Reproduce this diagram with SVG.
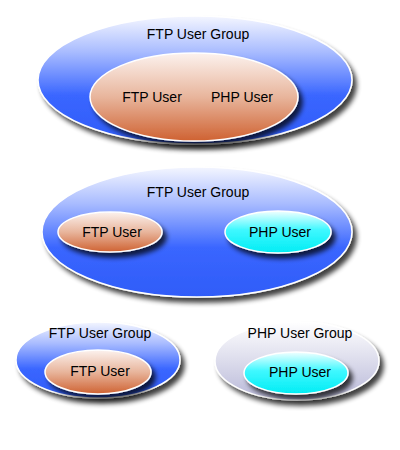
<svg xmlns="http://www.w3.org/2000/svg" width="400" height="450" viewBox="0 0 400 450">
<defs>
<linearGradient id="gBlue" x1="0" y1="0" x2="0" y2="1">
<stop offset="0" stop-color="#f4f6ff"/>
<stop offset="0.28" stop-color="#a9bcff"/>
<stop offset="0.62" stop-color="#3a66ff"/>
<stop offset="1" stop-color="#2f5cf8"/>
</linearGradient>
<linearGradient id="gOrange" x1="0" y1="0" x2="0" y2="1">
<stop offset="0" stop-color="#fcf2ee"/>
<stop offset="0.5" stop-color="#e8b59c"/>
<stop offset="1" stop-color="#cf6232"/>
</linearGradient>
<linearGradient id="gCyan" x1="0" y1="0" x2="0" y2="1">
<stop offset="0" stop-color="#f2ffff"/>
<stop offset="0.45" stop-color="#3ff8ff"/>
<stop offset="1" stop-color="#00ecf4"/>
</linearGradient>
<linearGradient id="gGrey" x1="0" y1="0" x2="0" y2="1">
<stop offset="0" stop-color="#ffffff"/>
<stop offset="0.5" stop-color="#dcdcec"/>
<stop offset="1" stop-color="#b8b8d8"/>
</linearGradient>
<filter id="shadow" x="-20%" y="-20%" width="140%" height="160%">
<feGaussianBlur in="SourceAlpha" stdDeviation="2.5"/>
<feOffset dx="4" dy="5" result="b"/>
<feComponentTransfer><feFuncA type="linear" slope="0.75"/></feComponentTransfer>
<feMerge><feMergeNode/><feMergeNode in="SourceGraphic"/></feMerge>
</filter>
</defs>
<style>
.e{stroke:#ffffff;stroke-width:1.5;filter:url(#shadow)}
.blue{fill:url(#gBlue)}
.orange{fill:url(#gOrange)}
.cyan{fill:url(#gCyan)}
.grey{fill:url(#gGrey)}
text{font-family:"Liberation Sans",Arial,sans-serif;font-size:14px;fill:#000;text-anchor:middle}
</style>
<g id="diagram1">
<g id="ftpGroup1">
<ellipse class="e blue" cx="195" cy="80" rx="157" ry="64"/>
<text x="198" y="39">FTP User Group</text>
</g>
<g id="users1">
<ellipse class="e orange" cx="194" cy="97" rx="104" ry="44"/>
<text x="152" y="102">FTP User</text>
<text x="242" y="102">PHP User</text>
</g>
</g>
<g id="diagram2">
<g id="ftpGroup2">
<ellipse class="e blue" cx="197" cy="232" rx="155" ry="65"/>
<text x="198" y="197">FTP User Group</text>
</g>
<g id="ftpUser2">
<ellipse class="e orange" cx="110" cy="232" rx="52" ry="20"/>
<text x="112" y="237">FTP User</text>
</g>
<g id="phpUser2">
<ellipse class="e cyan" cx="278" cy="232" rx="53" ry="21"/>
<text x="280" y="237">PHP User</text>
</g>
</g>
<g id="diagram3">
<g id="ftpGroup3">
<ellipse class="e blue" cx="98" cy="360" rx="82" ry="38"/>
<text x="100" y="338">FTP User Group</text>
</g>
<g id="ftpUser3">
<ellipse class="e orange" cx="98" cy="372" rx="53" ry="22"/>
<text x="100" y="376">FTP User</text>
</g>
<g id="phpGroup3">
<ellipse class="e grey" cx="297" cy="361" rx="82" ry="39"/>
<text x="300" y="338">PHP User Group</text>
</g>
<g id="phpUser3">
<ellipse class="e cyan" cx="296" cy="373" rx="52" ry="21"/>
<text x="300" y="377">PHP User</text>
</g>
</g>
<g id="connectors"/>
</svg>
